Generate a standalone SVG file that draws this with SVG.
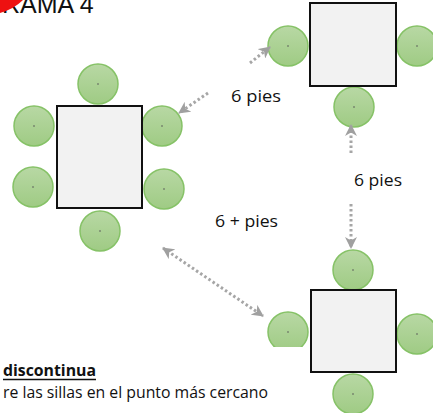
<svg xmlns="http://www.w3.org/2000/svg" width="433" height="413" viewBox="0 0 433 413">
<defs>
<linearGradient id="cg" x1="0" y1="0" x2="0" y2="1">
<stop offset="0" stop-color="#b8d8a4"/>
<stop offset="1" stop-color="#9fcb84"/>
</linearGradient>
<marker id="ah" viewBox="0 0 12 12" refX="11" refY="6" markerWidth="12" markerHeight="12" markerUnits="userSpaceOnUse" orient="auto-start-reverse">
<path d="M0,0 L12,6 L0,12 L3.5,6 Z" fill="#a0a0a0"/>
</marker>
<clipPath id="clipL"><rect x="260" y="300" width="60" height="47"/></clipPath>
</defs>
<style>
.chair{fill:url(#cg);stroke:#86c267;stroke-width:1.5}
.dot{fill:#555}
.table{fill:#f2f2f2;stroke:#111;stroke-width:2}
.conn{fill:none;stroke:#a6a6a6;stroke-width:3;stroke-dasharray:2.5 2.5}
.lbl{font-family:"Open Sans","Liberation Sans",sans-serif;font-size:17px;fill:#111}
.body{font-family:"Open Sans","Liberation Sans",sans-serif;font-size:16px;fill:#111}
</style>

<text x="2" y="12.5" font-family="Liberation Sans, Arial, sans-serif" font-size="25" fill="#111">RAMA 4</text>
<path d="M0,0 L23,0 Q14,9 0,13 Z" fill="#ee1111"/>

<g id="table-left">
<circle class="chair" cx="98" cy="84" r="20"/><circle class="dot" cx="98" cy="84" r="0.8"/>
<circle class="chair" cx="34" cy="126" r="20"/><circle class="dot" cx="34" cy="126" r="0.8"/>
<circle class="chair" cx="33" cy="187" r="20"/><circle class="dot" cx="33" cy="187" r="0.8"/>
<circle class="chair" cx="162" cy="126" r="20"/><circle class="dot" cx="162" cy="126" r="0.8"/>
<circle class="chair" cx="164" cy="189" r="20"/><circle class="dot" cx="164" cy="189" r="0.8"/>
<circle class="chair" cx="100" cy="231" r="20"/><circle class="dot" cx="100" cy="231" r="0.8"/>
<rect class="table" x="57" y="106" width="85" height="102"/>
</g>

<g id="table-top-right">
<circle class="chair" cx="288" cy="46" r="20"/><circle class="dot" cx="288" cy="46" r="0.8"/>
<circle class="chair" cx="417" cy="46" r="20"/><circle class="dot" cx="417" cy="46" r="0.8"/>
<circle class="chair" cx="354" cy="107" r="20"/><circle class="dot" cx="354" cy="107" r="0.8"/>
<rect class="table" x="310" y="3" width="86" height="83"/>
</g>

<g id="table-bottom-right">
<circle class="chair" cx="353" cy="270" r="20"/><circle class="dot" cx="353" cy="270" r="0.8"/>
<circle class="chair" cx="288" cy="332" r="20" clip-path="url(#clipL)"/><circle class="dot" cx="288" cy="332" r="0.8"/>
<circle class="chair" cx="417" cy="334" r="20"/><circle class="dot" cx="417" cy="334" r="0.8"/>
<circle class="chair" cx="353" cy="394" r="20"/><circle class="dot" cx="353" cy="394" r="0.8"/>
<rect class="table" x="311" y="290" width="85" height="82"/>
</g>

<g id="connectors">
<line class="conn" x1="208" y1="93" x2="179" y2="113" marker-end="url(#ah)"/>
<line class="conn" x1="250" y1="63" x2="270" y2="47" marker-end="url(#ah)"/>
<line class="conn" x1="351" y1="153" x2="351" y2="125" marker-end="url(#ah)"/>
<line class="conn" x1="351" y1="204" x2="351" y2="248" marker-end="url(#ah)"/>
<line class="conn" x1="163" y1="248" x2="263" y2="316" marker-start="url(#ah)" marker-end="url(#ah)"/>
</g>

<g id="labels">
<text class="lbl" x="231" y="102" textLength="50" lengthAdjust="spacingAndGlyphs">6 pies</text>
<text class="lbl" x="354" y="186" textLength="48" lengthAdjust="spacingAndGlyphs">6 pies</text>
<text class="lbl" x="215" y="227" textLength="63" lengthAdjust="spacingAndGlyphs">6 + pies</text>
</g>

<g id="notes">
<text class="body" x="3" y="376" font-weight="bold" textLength="93" lengthAdjust="spacingAndGlyphs">discontinua</text>
<line x1="3" y1="379.5" x2="96" y2="379.5" stroke="#111" stroke-width="1.5"/>
<text class="body" x="3" y="398" textLength="265" lengthAdjust="spacingAndGlyphs">re las sillas en el punto más cercano</text>
</g>
</svg>
